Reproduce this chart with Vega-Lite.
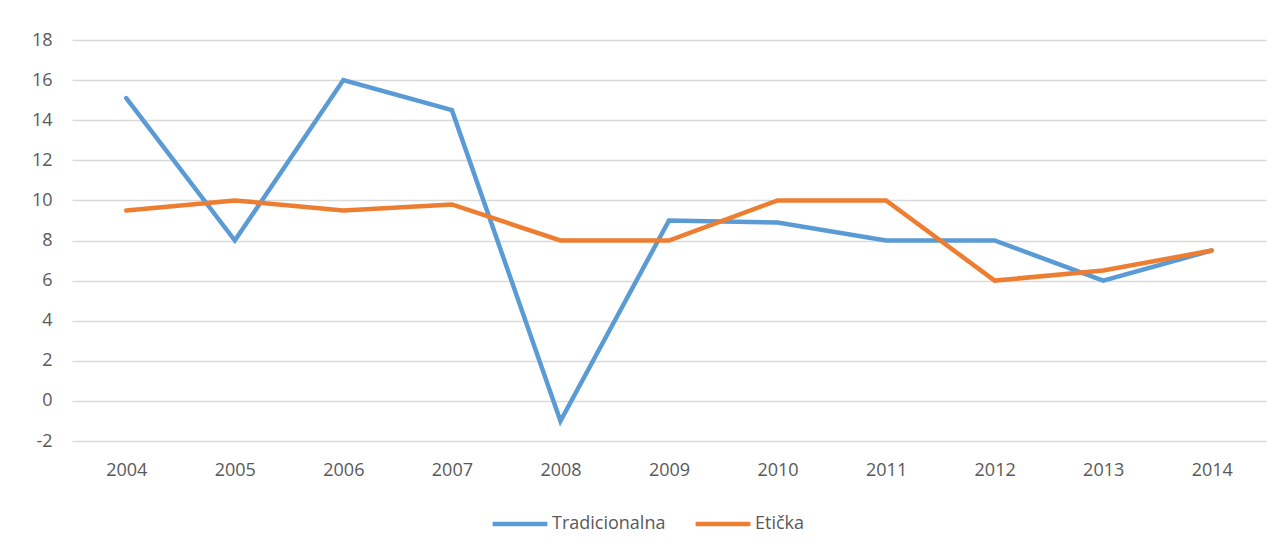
{
  "$schema": "https://vega.github.io/schema/vega-lite/v6.json",
  "autosize": "none",
  "width": 1194,
  "height": 401,
  "padding": {"left": 72, "top": 40, "right": 16, "bottom": 114},
  "background": "white",
  "config": {
    "view": {"stroke": null},
    "font": "Open Sans",
    "axis": {"labelFont": "Open Sans", "labelColor": "#595959", "labelFontSize": 18},
    "legend": {"labelFont": "Open Sans", "labelColor": "#595959", "labelFontSize": 18}
  },
  "data": {
    "values": [
      {"year": "2004", "series": "Tradicionalna", "value": 15.1},
      {"year": "2005", "series": "Tradicionalna", "value": 8},
      {"year": "2006", "series": "Tradicionalna", "value": 16},
      {"year": "2007", "series": "Tradicionalna", "value": 14.5},
      {"year": "2008", "series": "Tradicionalna", "value": -1},
      {"year": "2009", "series": "Tradicionalna", "value": 9},
      {"year": "2010", "series": "Tradicionalna", "value": 8.9},
      {"year": "2011", "series": "Tradicionalna", "value": 8},
      {"year": "2012", "series": "Tradicionalna", "value": 8},
      {"year": "2013", "series": "Tradicionalna", "value": 6},
      {"year": "2014", "series": "Tradicionalna", "value": 7.5},
      {"year": "2004", "series": "Etička", "value": 9.5},
      {"year": "2005", "series": "Etička", "value": 10},
      {"year": "2006", "series": "Etička", "value": 9.5},
      {"year": "2007", "series": "Etička", "value": 9.8},
      {"year": "2008", "series": "Etička", "value": 8},
      {"year": "2009", "series": "Etička", "value": 8},
      {"year": "2010", "series": "Etička", "value": 10},
      {"year": "2011", "series": "Etička", "value": 10},
      {"year": "2012", "series": "Etička", "value": 6},
      {"year": "2013", "series": "Etička", "value": 6.5},
      {"year": "2014", "series": "Etička", "value": 7.5}
    ]
  },
  "mark": {"type": "line", "strokeWidth": 4.5, "strokeCap": "round", "strokeJoin": "miter"},
  "encoding": {
    "x": {
      "field": "year", "type": "ordinal", "title": null,
      "scale": {"type": "point", "padding": 0.5},
      "axis": {"labelAngle": 0, "domain": false, "ticks": false, "grid": false, "labelPadding": 20}
    },
    "y": {
      "field": "value", "type": "quantitative", "title": null,
      "scale": {"domain": [-2, 18], "nice": false, "zero": false},
      "axis": {"values": [-2, 0, 2, 4, 6, 8, 10, 12, 14, 16, 18], "domain": false, "ticks": false, "grid": true, "gridColor": "#d9d9d9", "gridWidth": 1.3, "labelPadding": 20, "labelExpr": "datum.value < 0 ? '-' + abs(datum.value) : datum.label"}
    },
    "color": {
      "field": "series", "type": "nominal", "title": null,
      "sort": ["Tradicionalna", "Etička"],
      "scale": {"domain": ["Tradicionalna", "Etička"], "range": ["#5b9bd5", "#ed7d31"]},
      "legend": {
        "orient": "none", "legendX": 418, "legendY": 454, "direction": "horizontal",
        "symbolType": "stroke", "symbolSize": 3000, "symbolStrokeWidth": 4.5,
        "labelOffset": 2, "columnPadding": 20, "offset": 0
      }
    }
  }
}
